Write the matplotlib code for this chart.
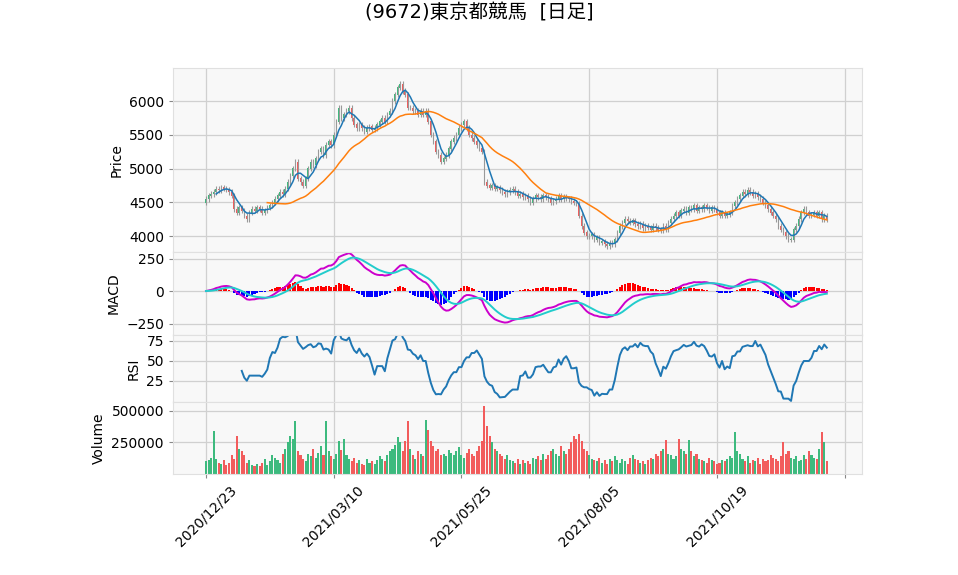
import numpy as np
import pandas as pd
import matplotlib
matplotlib.use("Agg")
import matplotlib.pyplot as plt

plt.rcParams['font.family'] = ['DejaVu Sans', 'Noto Sans CJK JP']

title = "(9672)東京都競馬  [日足]"
tick_labels = ["2020/12/23", "2021/03/10", "2021/05/25", "2021/08/05", "2021/10/19", ""]
tick_pos = [0, 50, 100, 150, 200, 250]

closes = [
 4550,4600,4620,4650,4700,4680,4720,4700,4690,4650,
 4600,4400,4350,4420,4380,4300,4250,4350,4400,4380,
 4420,4400,4350,4380,4420,4450,4500,4550,4600,4650,
 4620,4700,4800,4900,5000,5100,4850,4800,4750,4850,
 5000,5100,5050,5150,5250,5300,5200,5350,5400,5350,
 5500,5700,5900,5750,5800,5850,5900,5750,5650,5600,
 5650,5600,5550,5600,5620,5580,5600,5650,5700,5750,
 5700,5800,5850,6000,6100,6200,6250,6150,6100,5900,
 5900,5850,5850,5800,5850,5800,5850,5700,5500,5400,
 5250,5200,5100,5150,5200,5300,5400,5450,5500,5600,
 5650,5700,5600,5500,5450,5400,5350,5300,5250,4800,
 4750,4720,4750,4700,4720,4680,4650,4620,4650,4680,
 4700,4650,4600,4620,4580,4600,4550,4500,4550,4600,
 4580,4550,4600,4580,4550,4500,4520,4550,4600,4550,
 4580,4560,4550,4520,4500,4480,4300,4150,4050,4000,
 4000,4020,3950,3980,3900,3920,3880,3850,3900,3880,
 3950,4050,4150,4200,4250,4220,4200,4230,4180,4150,
 4180,4120,4150,4130,4100,4150,4120,4100,4080,4150,
 4100,4200,4250,4300,4350,4300,4380,4400,4350,4420,
 4400,4450,4380,4420,4400,4450,4420,4380,4420,4400,
 4350,4300,4350,4300,4320,4350,4450,4500,4550,4600,
 4650,4620,4680,4650,4600,4620,4580,4550,4500,4450,
 4400,4350,4300,4250,4150,4100,4050,4000,3950,3950,
 4100,4150,4250,4350,4400,4350,4300,4320,4350,4300,
 4350,4250,4300,4250]

volumes_k = [
 100,110,130,340,120,90,80,110,70,90,
 150,120,300,200,180,150,90,110,70,60,
 80,60,90,120,70,100,150,130,110,90,
 160,200,250,300,280,420,180,150,120,100,
 160,140,200,130,170,220,150,420,180,140,
 120,160,260,190,280,150,120,100,130,90,
 110,80,70,120,90,100,80,110,140,120,
 100,150,180,200,230,290,250,180,260,420,
 200,150,120,180,160,140,430,350,260,220,
 180,200,150,160,140,190,170,150,180,210,
 150,130,170,200,160,140,180,220,260,540,
 380,300,250,200,180,160,140,120,150,110,
 100,90,120,80,110,90,100,80,130,120,
 140,110,160,120,150,180,200,160,140,220,
 180,160,200,250,300,280,320,260,200,180,
 150,120,110,100,130,90,110,80,120,100,
 140,110,90,120,100,80,130,150,120,110,
 90,100,80,110,130,120,160,140,180,200,
 270,160,150,120,140,280,200,180,160,270,
 180,140,160,120,110,100,90,130,110,100,
 80,90,110,100,120,140,130,330,180,160,
 120,100,140,90,110,100,130,80,120,100,
 110,150,130,120,100,140,250,160,180,130,
 120,140,100,110,150,120,180,150,130,120,
 200,330,250,100]

close = pd.Series(closes, dtype=float)
opens = close.shift(1).fillna(close.iloc[0] - 50)
vol = np.array(volumes_k) * 1000
n = len(close)
idx = np.arange(n)
up_c = '#3dba7e'
dn_c = '#f25c5c'
up = close.values >= opens.values
colors = np.where(up, up_c, dn_c)

ma_s = close.rolling(5).mean()
ma_l = close.rolling(25).mean()
ema12 = close.ewm(span=12, adjust=False).mean()
ema26 = close.ewm(span=26, adjust=False).mean()
macd = ema12 - ema26
sig = macd.ewm(span=9, adjust=False).mean()
hist = macd - sig
d = close.diff()
g = d.clip(lower=0).rolling(14).mean()
l = (-d.clip(upper=0)).rolling(14).mean()
rsi = 100 - 100 / (1 + g / l)

fig = plt.figure(figsize=(9.58, 5.75), dpi=100)
L, W = 0.1806, 0.719
axp = fig.add_axes([L, 0.5617, W, 0.3200])
axm = fig.add_axes([L, 0.4174, W, 0.1443], sharex=axp)
axr = fig.add_axes([L, 0.3009, W, 0.1165], sharex=axp)
axv = fig.add_axes([L, 0.1757, W, 0.1252], sharex=axp)

for ax in (axp, axm, axr, axv):
    ax.set_facecolor('#f8f8f8')
    ax.grid(True, color='#d0d0d0', linewidth=0.9)
    ax.set_axisbelow(True)
    for s in ax.spines.values():
        s.set_color('#e0e0e0')
    ax.tick_params(length=3, color='#888888', labelsize=10)

lo = np.minimum(opens.values, close.values)
hi = np.maximum(opens.values, close.values)
axp.vlines(idx, lo - 40, hi + 40, color='#999999', linewidth=0.8)
axp.bar(idx, hi - lo + 8, bottom=lo - 4, width=0.6, color=colors)
axp.plot(idx, ma_s, color='#1f77b4', linewidth=1.1)
axp.plot(idx, ma_l, color='#ff7f0e', linewidth=1.1)
axp.set_ylim(3763, 6489)
axp.set_yticks([4000, 4500, 5000, 5500, 6000])
axp.set_ylabel('Price')

axm.bar(idx, hist, width=0.8, color=np.where(hist >= 0, 'red', 'blue'))
axm.plot(idx, macd, color='#cc00cc', linewidth=1.4)
axm.plot(idx, sig, color='#22cccc', linewidth=1.4)
axm.set_ylim(-338, 300)
axm.set_yticks([-250, 0, 250])
axm.set_ylabel('MACD')

axr.plot(idx, rsi, color='#1f77b4', linewidth=1.4)
axr.set_ylim(-1.25, 82.5)
axr.set_yticks([25, 50, 75])
axr.set_ylabel('RSI')

axv.bar(idx, vol, width=0.8, color=colors)
axv.set_ylim(0, 570000)
axv.set_yticks([250000, 500000])
axv.set_ylabel('Volume')

axp.set_xlim(-12.9, 256.7)
axv.set_xticks(tick_pos)
axv.set_xticklabels(tick_labels, rotation=45, ha='center')
for ax in (axp, axm, axr):
    plt.setp(ax.get_xticklabels(), visible=False)
    ax.tick_params(axis='x', length=0)

fig.suptitle(title, y=0.995, fontsize=14)
fig.savefig('out.png', dpi=100)
